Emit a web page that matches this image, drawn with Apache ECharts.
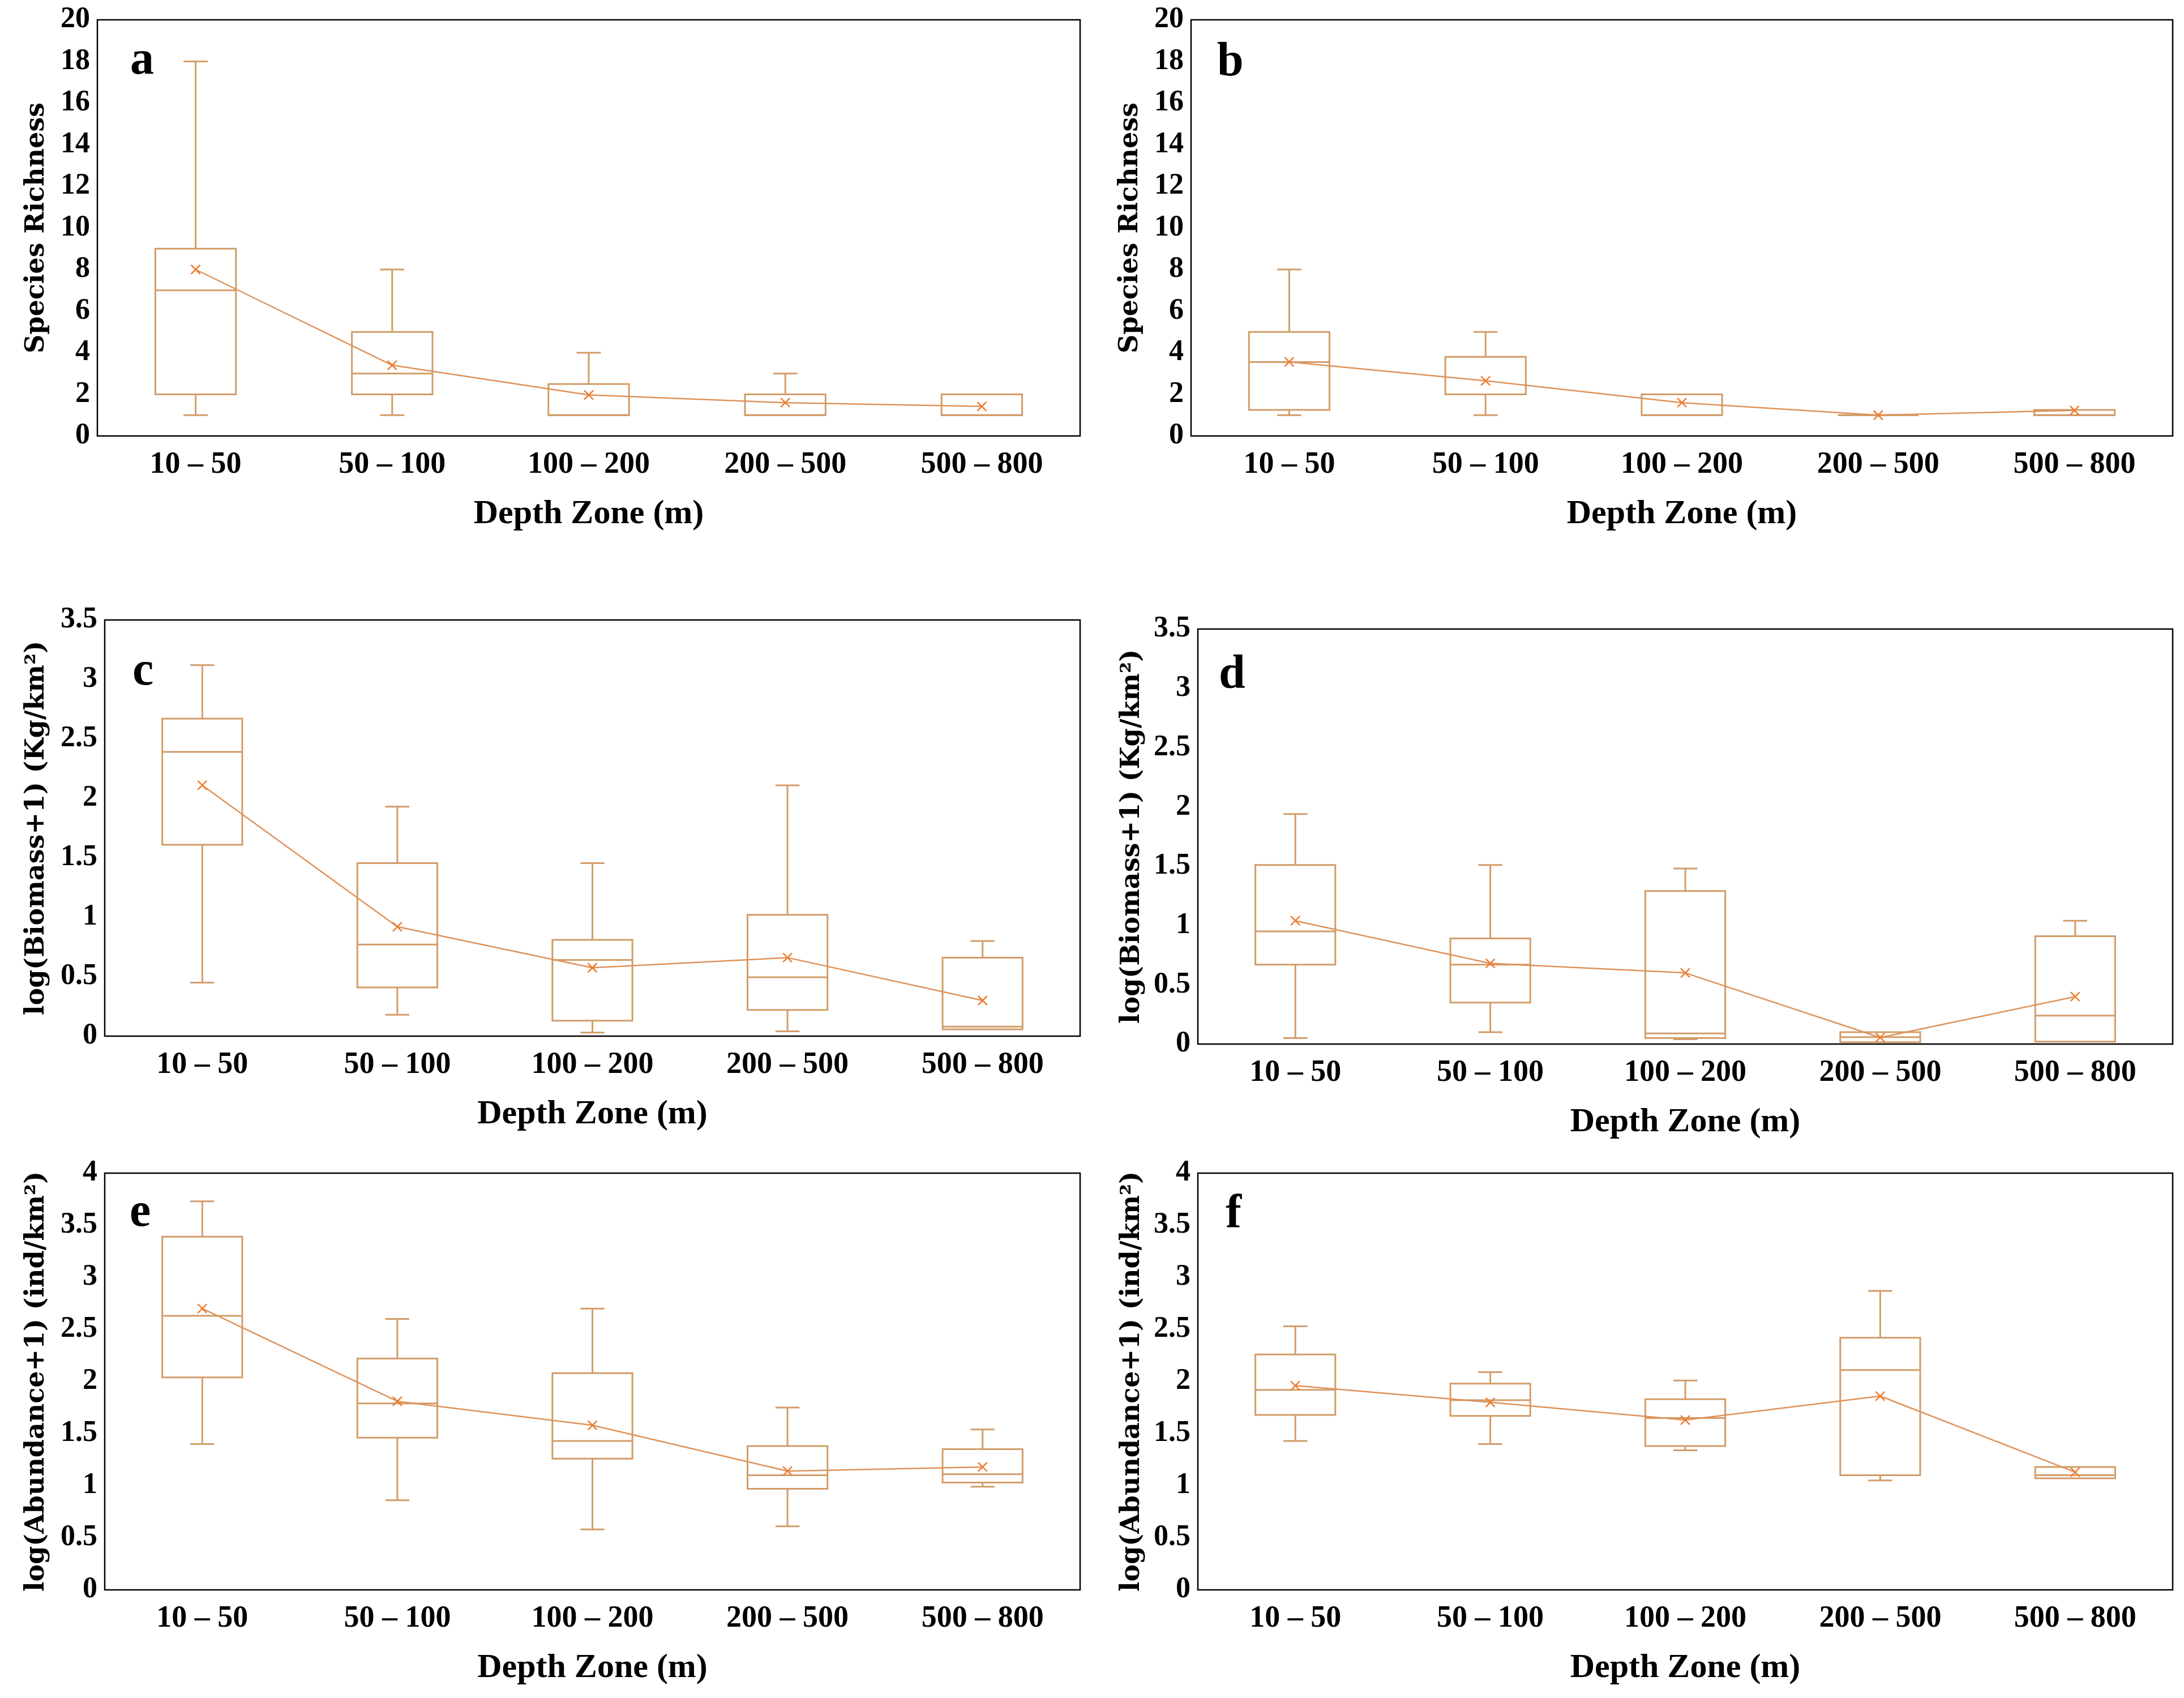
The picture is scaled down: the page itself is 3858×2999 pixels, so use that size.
<!DOCTYPE html>
<html>
<head>
<meta charset="utf-8">
<script src="https://cdn.jsdelivr.net/npm/echarts@6/dist/echarts.min.js"></script>
<style>
  html, body { margin: 0; padding: 0; background: #fff; }
  #chart { width: 3858px; height: 2999px; }
</style>
</head>
<body>
<div id="chart"></div>
<script>
// ---------------- DATA ----------------
const categories = ['10 – 50', '50 – 100', '100 – 200', '200 – 500', '500 – 800'];

// box stats: [min, Q1, median, Q3, max] per depth zone
const boxA = [[1, 2, 7, 9, 18], [1, 2, 3, 5, 8], [1, 1, 1, 2.5, 4], [1, 1, 1, 2, 3], [1, 1, 1, 2, 2]];
const meanA = [8.0, 3.4, 1.97, 1.6, 1.42];

const boxB = [[1, 1.25, 3.55, 5, 8], [1, 2, 2, 3.8, 5], [1, 1, 1, 2, 2], [1, 1, 1, 1, 1], [1, 1, 1, 1.25, 1.25]];
const meanB = [3.56, 2.65, 1.6, 1.0, 1.23];

const boxC = [[0.45, 1.61, 2.39, 2.67, 3.12], [0.18, 0.41, 0.77, 1.455, 1.93], [0.03, 0.13, 0.64, 0.81, 1.455], [0.04, 0.22, 0.495, 1.02, 2.11], [0.057, 0.057, 0.08, 0.66, 0.80]];
const meanC = [2.11, 0.92, 0.575, 0.66, 0.30];

const boxD = [[0.05, 0.67, 0.95, 1.51, 1.94], [0.10, 0.35, 0.67, 0.89, 1.51], [0.04, 0.05, 0.09, 1.29, 1.48], [0.015, 0.015, 0.058, 0.10, 0.10], [0.02, 0.02, 0.24, 0.91, 1.04]];
const meanD = [1.04, 0.68, 0.60, 0.055, 0.40];

const boxE = [[1.40, 2.04, 2.63, 3.39, 3.73], [0.86, 1.46, 1.79, 2.22, 2.60], [0.58, 1.26, 1.43, 2.08, 2.70], [0.61, 0.97, 1.10, 1.38, 1.75], [0.99, 1.03, 1.11, 1.35, 1.54]];
const meanE = [2.70, 1.81, 1.58, 1.14, 1.18];

const boxF = [[1.43, 1.68, 1.92, 2.26, 2.53], [1.40, 1.67, 1.82, 1.98, 2.09], [1.34, 1.38, 1.65, 1.83, 2.01], [1.05, 1.10, 2.11, 2.42, 2.87], [1.07, 1.07, 1.10, 1.18, 1.18]];
const meanF = [1.96, 1.80, 1.63, 1.86, 1.13];

const xTitle = 'Depth Zone (m)';
const yTitles = ['Species Richness', 'Species Richness', 'log(Biomass+1) (Kg/km²)', 'log(Biomass+1) (Kg/km²)', 'log(Abundance+1) (ind/km²)', 'log(Abundance+1) (ind/km²)'];
const letters = ['a', 'b', 'c', 'd', 'e', 'f'];
const yMaxes = [20, 20, 3.5, 3.5, 4, 4];
const yIntervals = [2, 2, 0.5, 0.5, 0.5, 0.5];

// ---------------- LAYOUT / STYLE ----------------
const grids = [
  { left: 172, top: 35, right: 3858 - 1908, bottom: 2999 - 770 },
  { left: 2104, top: 35, right: 3858 - 3838, bottom: 2999 - 770 },
  { left: 185, top: 1095, right: 3858 - 1908, bottom: 2999 - 1830 },
  { left: 2116, top: 1111, right: 3858 - 3838, bottom: 2999 - 1844 },
  { left: 185, top: 2072, right: 3858 - 1908, bottom: 2999 - 2808 },
  { left: 2116, top: 2072, right: 3858 - 3838, bottom: 2999 - 2808 }
];
const nameGaps = [84, 84, 97, 93, 97, 93];
// letter centre positions
const letterPos = [[230, 108], [2150, 111], [234, 1187], [2153, 1193], [229, 2143], [2165, 2146]];

const BOX_COLOR = '#D29C68';
const LINE_COLOR = '#DE9259';
const MARK_COLOR = '#ED7D31';
const SERIF = '"Liberation Serif", "DejaVu Serif", serif';
const WIDE_SERIF = '"DejaVu Serif", "Liberation Serif", serif';

const boxes = [boxA, boxB, boxC, boxD, boxE, boxF];
const means = [meanA, meanB, meanC, meanD, meanE, meanF];

function renderBox(params, api) {
  const idx = api.value(0);
  const mn = api.value(1), q1 = api.value(2), md = api.value(3), q3 = api.value(4), mx = api.value(5);
  const x = api.coord([idx, md])[0];
  const bw = api.size([1, 0])[0] * 0.41;
  const cw = bw * 0.3;
  const y = v => api.coord([idx, v])[1];
  const st = { stroke: BOX_COLOR, lineWidth: 3, fill: 'transparent' };
  const ls = { stroke: BOX_COLOR, lineWidth: 3 };
  const children = [
    { type: 'rect', shape: { x: x - bw / 2, y: y(q3), width: bw, height: y(q1) - y(q3) }, style: st },
    { type: 'line', shape: { x1: x - bw / 2, y1: y(md), x2: x + bw / 2, y2: y(md) }, style: ls }
  ];
  if (mx > q3) {
    children.push({ type: 'line', shape: { x1: x, y1: y(q3), x2: x, y2: y(mx) }, style: ls });
    children.push({ type: 'line', shape: { x1: x - cw / 2, y1: y(mx), x2: x + cw / 2, y2: y(mx) }, style: ls });
  }
  if (mn < q1) {
    children.push({ type: 'line', shape: { x1: x, y1: y(q1), x2: x, y2: y(mn) }, style: ls });
    children.push({ type: 'line', shape: { x1: x - cw / 2, y1: y(mn), x2: x + cw / 2, y2: y(mn) }, style: ls });
  }
  return { type: 'group', children: children };
}

const option = {
  backgroundColor: '#fff',
  animation: false,
  grid: grids.map(g => Object.assign({ show: true, borderColor: '#000', borderWidth: 2.5, backgroundColor: 'transparent', containLabel: false }, g)),
  xAxis: grids.map((g, i) => ({
    type: 'category',
    gridIndex: i,
    data: categories,
    axisLine: { show: false },
    axisTick: { show: false },
    splitLine: { show: false },
    axisLabel: { color: '#000', fontFamily: SERIF, fontWeight: 'bold', fontSize: 54, margin: 24, interval: 0 },
    name: xTitle,
    nameLocation: 'middle',
    nameGap: 108,
    nameTextStyle: { color: '#000', fontFamily: SERIF, fontWeight: 'bold', fontSize: 60 }
  })),
  yAxis: grids.map((g, i) => ({
    type: 'value',
    gridIndex: i,
    min: 0,
    max: yMaxes[i],
    interval: yIntervals[i],
    axisLine: { show: false },
    axisTick: { show: false },
    splitLine: { show: false },
    axisLabel: { color: '#000', fontFamily: SERIF, fontWeight: 'bold', fontSize: 52, margin: 13 },
    name: yTitles[i],
    nameLocation: 'middle',
    nameGap: nameGaps[i],
    nameTextStyle: { color: '#000', fontFamily: WIDE_SERIF, fontWeight: 'bold', fontSize: 46 }
  })),
  series: [],
  graphic: letters.map((l, i) => ({
    type: 'text',
    x: letterPos[i][0],
    y: letterPos[i][1],
    style: { text: l, font: 'bold 84px ' + SERIF, fill: '#000', verticalAlign: 'middle' },
    z: 100
  }))
};

boxes.forEach((b, i) => {
  option.series.push({
    type: 'custom',
    xAxisIndex: i,
    yAxisIndex: i,
    renderItem: renderBox,
    encode: { x: 0, y: [1, 2, 3, 4, 5] },
    data: b.map((v, k) => [k].concat(v)),
    z: 2
  });
  option.series.push({
    type: 'line',
    xAxisIndex: i,
    yAxisIndex: i,
    data: means[i],
    symbol: 'path://M0,0L10,10M10,0L0,10',
    symbolSize: 16,
    showAllSymbol: true,
    lineStyle: { color: LINE_COLOR, width: 2.5 },
    itemStyle: { color: MARK_COLOR, borderColor: MARK_COLOR, borderWidth: 2.5 },
    z: 3
  });
});

const chart = echarts.init(document.getElementById('chart'), null, { renderer: 'canvas' });
chart.setOption(option);
</script>
</body>
</html>
